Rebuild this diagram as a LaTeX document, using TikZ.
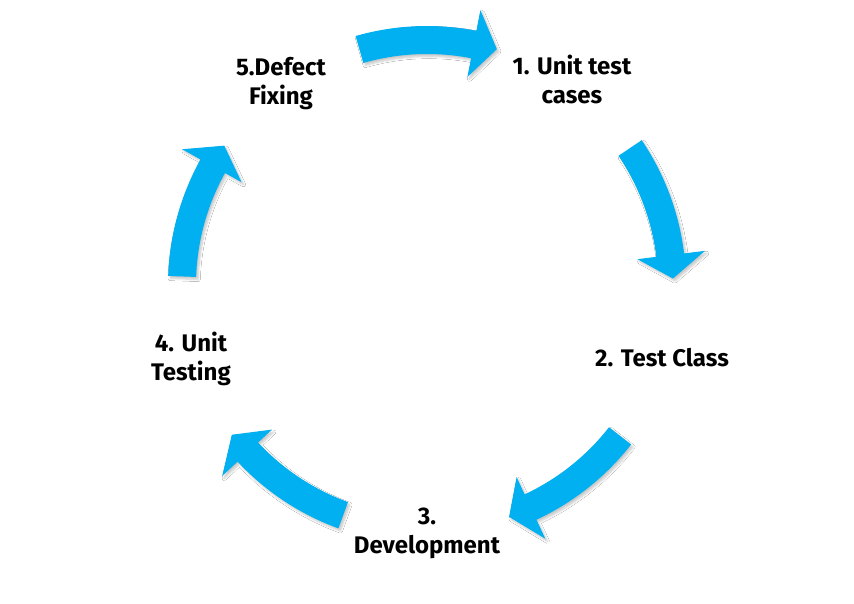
\documentclass[tikz,border=0pt]{standalone}
\usepackage{fontspec}
\setmainfont{Fira Sans}
\usetikzlibrary{shadows.blur}
\definecolor{cyclecyan}{HTML}{00B0F0}
% one curved arrow of the cycle, centred on angle #1
\newcommand{\cyclearrow}[1]{%
  \pgfmathsetmacro{\s}{#1+16}%
  \pgfmathsetmacro{\b}{#1-11}%
  \pgfmathsetmacro{\t}{#1-16.5}%
  \fill[cyclecyan,blur shadow={shadow xshift=2pt,shadow yshift=-2.5pt,shadow blur steps=6,shadow opacity=22}]
    (\s:259pt) arc[start angle=\s, end angle=\b, radius=259pt] -- (\b:280pt) -- (\t:246pt)
    -- (\b:212pt) -- (\b:231pt) arc[start angle=\b, end angle=\s, radius=231pt] -- cycle;}
\begin{document}
\begin{tikzpicture}[x=1pt,y=-1pt,
    stage/.style={font=\bfseries\fontsize{24}{29}\selectfont, align=center, inner sep=0pt}]
  \useasboundingbox[fill=white] (0,0) rectangle (854,604);

  \begin{scope}[shift={(427,285)}]
    \cyclearrow{90}
    \cyclearrow{18}
    \cyclearrow{-54}
    \cyclearrow{-126}
    \cyclearrow{162}
  \end{scope}

  \node[stage] (unitcases) at (572,79) {1. Unit test\\cases};
  \node[stage] (testclass) at (662,358) {2. Test Class};
  \node[stage] (develop) at (427,533) {3.\\Development};
  \node[stage] (unittest) at (191,359) {4. Unit\\Testing};
  \node[stage] (defect) at (281,83.5) {5.Defect\\Fixing};
\end{tikzpicture}
\end{document}
